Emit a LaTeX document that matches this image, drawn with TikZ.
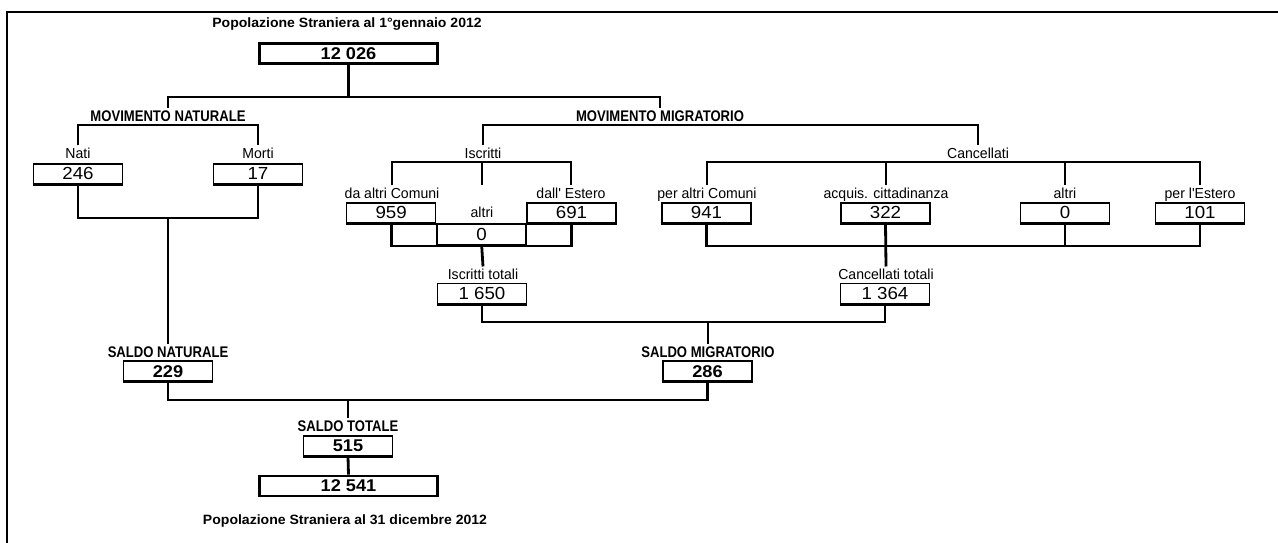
\documentclass[tikz,border=0pt]{standalone}
\usepackage{fontspec}
\setmainfont{Liberation Sans}
\newfontfamily\regf{Liberation Sans}[FakeStretch=0.97]
\newfontfamily\numf{Liberation Sans}[FakeStretch=1.07]
\newfontfamily\ttlf{Liberation Sans}[FakeStretch=1.04]
\newfontfamily\nbf{Liberation Sans}[FakeStretch=0.85]
\begin{document}
\begin{tikzpicture}[x=1pt,y=-1pt,
  conn/.style={line width=2.8pt},
  lab/.style={font=\regf\fontsize{14.5}{16}\selectfont, inner sep=0pt, outer sep=2.5pt, anchor=base},
  blab/.style={font=\nbf\bfseries\fontsize{15.4}{17}\selectfont, inner sep=0pt, outer sep=3pt, anchor=base},
  ttl/.style={font=\ttlf\bfseries\fontsize{13.5}{15}\selectfont, inner sep=0pt, anchor=base},
  num/.style={draw, line width=1.5pt, minimum width=89pt, minimum height=20pt, inner sep=0pt,
    font=\numf\fontsize{17.5}{18}\selectfont,
    append after command={\pgfextra{\let\mainnode\tikzlastnode}
      (\mainnode.south west) edge[line width=2.6pt] (\mainnode.south east)}},
  bnum/.style={num, font=\numf\bfseries\fontsize{17}{18}\selectfont},
  big/.style={draw, line width=2.8pt, minimum width=178pt, minimum height=20pt, inner sep=0pt,
    font=\numf\bfseries\fontsize{17}{18}\selectfont}]
\useasboundingbox (0,0) rectangle (1278,543);
% frame
\coordinate (fbl) at (7,543);
\coordinate (ftl) at (7,12);
\coordinate (ftr) at (1278,12);
\draw[line width=2.4pt] (fbl) -- (ftl) -- (ftr);
% junction levels
\coordinate (jA) at (0,97);
\coordinate (jB) at (0,125);
\coordinate (jC) at (0,162);
\coordinate (jD) at (0,218);
\coordinate (jE) at (0,246);
\coordinate (jF) at (0,322);
\coordinate (jG) at (0,400);
% titles and top
\node[ttl] (t1) at (347,27.7) {Popolazione Straniera al 1°gennaio 2012};
\node[big] (n0) at (348.5,53.5) {12 026};
\node[blab] (mn) at (168,121.7) {MOVIMENTO NATURALE};
\node[blab] (mm) at (660,121.7) {MOVIMENTO MIGRATORIO};
% movimento naturale
\node[lab] (nati) at (78,158.5) {Nati};
\node[lab] (morti) at (258,158.5) {Morti};
\node[num] (b246) at (78,173.8) {246};
\node[num] (b17) at (258,173.8) {17};
% iscritti
\node[lab] (iscr) at (483,158.5) {Iscritti};
\node[lab] (l959) at (392,198.5) {da altri Comuni};
\node[lab] (l691) at (571,198.5) {dall' Estero};
\node[lab] (laltri) at (482,217.5) {altri};
\node[num] (b959) at (391.2,212.8) {959};
\node[num] (b691) at (571.5,212.8) {691};
\node[num, minimum height=21pt] (b0i) at (481.7,234.5) {0};
\node[lab] (itot) at (483,279.5) {Iscritti totali};
\node[num] (b1650) at (482,293.5) {1 650};
% cancellati
\node[lab] (canc) at (978,158.5) {Cancellati};
\node[lab] (c941) at (707,198.5) {per altri Comuni};
\node[lab] (c322) at (886,198.5) {acquis. cittadinanza};
\node[lab] (c0) at (1065,198.5) {altri};
\node[lab] (c101) at (1200,198.5) {per l'Estero};
\node[num] (b941) at (706.5,212.8) {941};
\node[num] (b322) at (885.5,212.8) {322};
\node[num] (b0c) at (1065,212.8) {0};
\node[num] (b101) at (1200,212.8) {101};
\node[lab] (ctot) at (886,279.5) {Cancellati totali};
\node[num] (b1364) at (885,293.5) {1 364};
% saldi
\node[blab] (sn) at (168,357.5) {SALDO NATURALE};
\node[bnum] (b229) at (168,371.2) {229};
\node[blab] (sm) at (708,357.5) {SALDO MIGRATORIO};
\node[bnum] (b286) at (707.5,371.2) {286};
\node[blab] (st) at (348,431.5) {SALDO TOTALE};
\node[bnum] (b515) at (348,446) {515};
\node[big] (b12541) at (348.5,486) {12 541};
\node[ttl] (t2) at (345,524.5) {Popolazione Straniera al 31 dicembre 2012};
% connectors
\draw[conn] (n0.south) -- (n0.south |- jA);
\draw[conn] (mn.north) -- (mn.north |- jA) -- (mm.north |- jA) -- (mm.north);
\draw[conn] (nati.north) -- (nati.north |- jB) -- (morti.north |- jB) -- (morti.north);
\draw[conn] (iscr.north) -- (iscr.north |- jB) -- (canc.north |- jB) -- (canc.north);
\draw[conn] (b246.south) -- (b246.south |- jD) -- (b17.south |- jD) -- (b17.south);
\draw[conn] (sn.north |- jD) -- (sn.north);
\draw[conn] (l959.north) -- (l959.north |- jC) -- (l691.north |- jC) -- (l691.north);
\draw[conn] (laltri.north |- jC) -- (laltri.north |- l959.north);
\draw[conn] (b959.south) -- (b959.south |- jE) -- (b691.south |- jE) -- (b691.south);
\draw[conn] (b0i.south) -- (itot.north);
\draw[conn] (c941.north) -- (c941.north |- jC) -- (c101.north |- jC) -- (c101.north);
\draw[conn] (c322.north |- jC) -- (c322.north);
\draw[conn] (c0.north |- jC) -- (c0.north);
\draw[conn] (b941.south) -- (b941.south |- jE) -- (b101.south |- jE) -- (b101.south);
\draw[conn] (b322.south) -- (ctot.north);
\draw[conn] (b0c.south) -- (b0c.south |- jE);
\draw[conn] (b1650.south) -- (b1650.south |- jF) -- (b1364.south |- jF) -- (b1364.south);
\draw[conn] (sm.north |- jF) -- (sm.north);
\draw[conn] (b229.south) -- (b229.south |- jG) -- (b286.south |- jG) -- (b286.south);
\draw[conn] (st.north |- jG) -- (st.north);
\draw[conn] (b515.south) -- (b12541.north);
\end{tikzpicture}
\end{document}
